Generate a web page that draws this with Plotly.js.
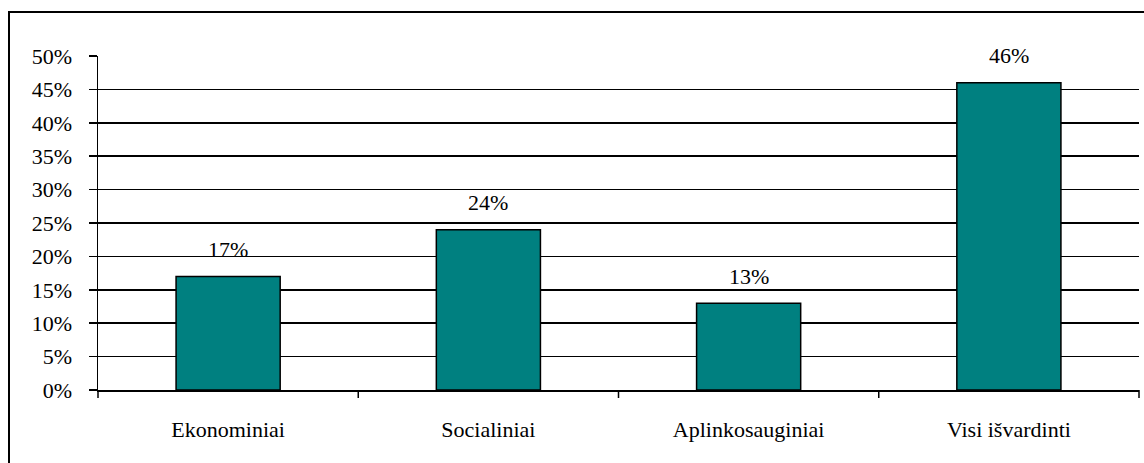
<!DOCTYPE html>
<html>
<head>
<meta charset="utf-8">
<script src="https://cdn.plot.ly/plotly-3.0.1.min.js"></script>
<style>
html,body{margin:0;padding:0;background:#fff;}
#chart{width:1144px;height:463px;}
</style>
</head>
<body>
<div id="chart"></div>
<script>
const categories = ["Ekonominiai", "Socialiniai", "Aplinkosauginiai", "Visi išvardinti"];
const values = [17, 24, 13, 46];
const labels = ["17%", "24%", "13%", "46%"];
const yTickVals = [0, 5, 10, 15, 20, 25, 30, 35, 40, 45, 50];
const yTickText = ["0%", "5%", "10%", "15%", "20%", "25%", "30%", "35%", "40%", "45%", "50%"];

const L = 98, R = 1139, T = 56, B = 390;
const W = 1144, H = 463;
const pw = R - L, ph = B - T;
function px(x){ return (x - L) / pw; }
function py(y){ return (B - y) / ph; }

const font = {family: "Liberation Serif, Times New Roman, serif", size: 22, color: "#000"};
const xfont = {family: "Liberation Serif, Times New Roman, serif", size: 22, color: "#000"};

const trace = {
  type: "bar",
  x: categories,
  y: values,
  marker: {color: "#008080", line: {color: "#000", width: 1.5}},
  hoverinfo: "none"
};

const annotations = categories.map((c, i) => ({
  x: c, y: values[i], xref: "x", yref: "y",
  text: labels[i], showarrow: false,
  yanchor: "middle", yshift: 27,
  font: font
}));

const layout = {
  width: W, height: H,
  margin: {l: L, r: W - R, t: T, b: H - B, pad: 0},
  paper_bgcolor: "#fff", plot_bgcolor: "#fff",
  showlegend: false,
  bargap: 0.6,
  font: font,
  xaxis: {
    type: "category",
    range: [-0.5, 3.5],
    showgrid: false,
    showline: true, linecolor: "#000", linewidth: 1.5,
    ticks: "", tickfont: xfont,
    ticklabelstandoff: 19,
    zeroline: false, fixedrange: true
  },
  yaxis: {
    range: [0, 50],
    tickvals: yTickVals, ticktext: yTickText,
    showgrid: true, gridcolor: "#000", gridwidth: 1.5,
    showline: true, linecolor: "#000", linewidth: 1.5,
    ticks: "outside", ticklen: 8, tickcolor: "#000", tickwidth: 1.5,
    tickfont: font, ticklabelstandoff: 12,
    zeroline: false, fixedrange: true
  },
  annotations: annotations,
  shapes: [
    ...[0, 1, 2, 3, 4].map(k => ({
      type: "line", xref: "paper", yref: "paper",
      x0: k / 4, x1: k / 4, y0: 0, y1: py(398),
      line: {color: "#000", width: 1.5}
    })),
    {type: "rect", xref: "paper", yref: "paper",
     x0: px(9), x1: px(1160), y0: py(480), y1: py(12),
     line: {color: "#000", width: 2}, fillcolor: "rgba(0,0,0,0)", layer: "above"}
  ]
};

Plotly.newPlot("chart", [trace], layout, {displayModeBar: false, staticPlot: true});
</script>
</body>
</html>
